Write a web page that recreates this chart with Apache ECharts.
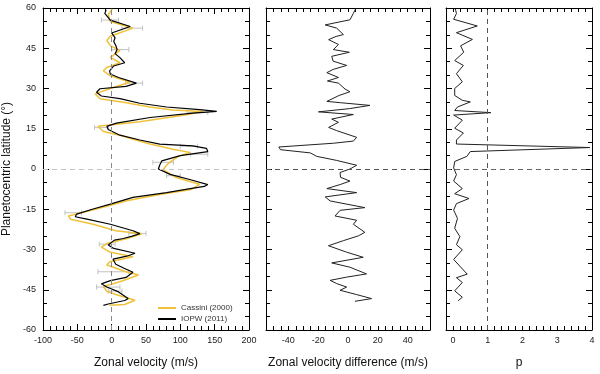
<!DOCTYPE html>
<html>
<head>
<meta charset="utf-8">
<script src="https://cdn.jsdelivr.net/npm/echarts@6/dist/echarts.min.js"></script>
<style>
  html, body { margin: 0; padding: 0; background: #fff; }
  #chart { width: 600px; height: 374px; }
</style>
</head>
<body>
<div id="chart"></div>
<script>
// IOPW (2011) zonal velocity profile
const iopwLat = [59.3, 58.0, 55.5, 53.1, 50.7, 48.9, 47.5, 46.0, 44.5, 43.0, 41.5, 39.6, 38.4, 36.6, 35.4, 34.1, 32.0, 30.8, 29.9, 28.6, 27.2, 26.2, 24.5, 23.1, 22.1, 21.5, 20.8, 19.2, 17.1, 15.9, 14.7, 12.6, 10.8, 9.3, 8.6, 7.7, 6.5, 5.0, 3.0, 1.5, 0.0, -2.0, -4.0, -5.8, -6.5, -7.5, -8.8, -10.6, -13.1, -14.9, -16.8, -17.8, -18.7, -20.6, -23.0, -24.1, -25.0, -25.9, -26.5, -28.3, -29.6, -31.4, -32.5, -33.6, -35.5, -37.0, -38.5, -40.4, -41.6, -42.8, -44.0, -45.8, -48.3, -49.0, -50.3, -50.8];
const iopwVel = [-8, -10, -2, 27, 0, 5, 3, 6, 8, 5, 12, 19, 3, -3, -2, 10, 36, 21, -17, -22, -15, 12, 41, 80, 128, 153, 118, 56, 7, -7, -5, 12, 41, 70, 118, 138, 140, 100, 73, 70, 68, 85, 115, 140, 135, 110, 80, 31, -2, -27, -51, -53, -36, -2, 31, 41, 30, 17, 4, -5, 3, 34, 22, 2, 6, 18, 31, 21, -2, -15, -7, 10, 24, 19, -5, -12];

// Cassini (2000) zonal velocity profile
const cassiniLat = [59.7, 57.5, 55.0, 52.5, 49.5, 47.9, 46.0, 44.1, 41.6, 39.6, 37.8, 36.6, 34.7, 32.3, 30.4, 28.0, 26.2, 24.9, 23.1, 22.0, 21.4, 20.2, 17.6, 15.9, 14.0, 12.6, 10.8, 9.3, 7.4, 6.2, 4.7, 2.0, -0.2, -3.2, -5.7, -7.6, -9.5, -11.8, -13.9, -16.1, -17.5, -18.7, -20.6, -23.0, -24.1, -26.0, -27.8, -29.1, -30.9, -32.7, -34.6, -35.8, -38.3, -39.5, -42.0, -43.8, -45.6, -46.8, -48.9, -50.5, -50.8];
const cassiniVel = [1, -5, -2, 31, -2, -7, -2, 12, -2, 12, -7, -12, -2, 27, 2, -24, -17, 17, 56, 89, 133, 109, 41, -20, -12, 12, 35, 56, 89, 114, 97, 82, 75, 94, 128, 116, 70, 22, -7, -41, -63, -60, -27, 6, 44, 21, -7, -15, -3, 31, -3, -7, 21, 39, 12, -12, -7, 6, 34, 19, -3];

// error bars on Cassini profile
const errLat = [55.5, 52.5, 44.5, 32.0, 21.0, 15.5, 8.5, 5.5, 2.5, -2.5, -16.3, -24.0, -28.0, -38.3, -44.0, -45.5];
const errLo = [-15, 15, 0, 20, 110, -25, 100, 115, 60, 80, -68, 25, -18, -20, -22, -5];
const errHi = [10, 45, 25, 45, 140, -5, 125, 140, 90, 100, -44, 50, 5, 25, 12, 15];

// velocity difference
const diffLat = [59.9, 58.0, 55.6, 53.7, 52.5, 50.1, 49.4, 48.2, 46.4, 44.5, 43.5, 42.0, 40.2, 38.6, 37.1, 35.9, 34.1, 32.8, 32.0, 29.8, 28.8, 27.4, 25.2, 24.7, 23.7, 22.5, 21.3, 20.3, 18.6, 17.4, 15.5, 14.3, 11.8, 10.4, 9.6, 8.2, 7.2, 6.0, 4.7, 3.2, 1.4, 0.0, -1.3, -3.1, -4.5, -5.8, -7.3, -8.8, -10.4, -11.9, -14.4, -15.4, -17.5, -19.1, -20.6, -23.6, -24.9, -26.7, -28.6, -31.0, -32.9, -35.0, -36.6, -39.1, -40.3, -41.5, -42.7, -44.0, -45.2, -46.8, -48.3, -49.3];
const diffVal = [5.3, 3.6, 1.3, -15.3, -7.6, -3.1, -8, -13, -6.4, -9.8, 0.9, -10.9, -10, -0.9, -10, -14.2, -6.4, -13.8, -6.4, -2, 1.3, -6, -14.2, -4.9, 14.7, 1, -19.8, 3.6, -10.9, -6.4, -13, -7.6, 5.8, 3.6, -9.8, -46.4, -45.3, -25.3, -20.9, -7.6, 5.8, 1.3, -5.3, -5, 1.3, -5.3, -14.2, 5.8, -15.3, -12, 11.3, -5.3, -8.7, 5.8, 3.6, 11.3, 7, -3.1, -13.1, -0.9, 10.2, -10.9, 1.3, 12.4, -0.9, -12, -7.6, -0.9, -5.3, 5.8, 15.8, 4.7];

// p
const pLat = [59.7, 57.9, 55.8, 53.3, 50.8, 48.3, 45.9, 43.5, 40.4, 38.6, 35.5, 32.5, 30.0, 27.4, 25.6, 25.0, 23.1, 21.8, 21.0, 20.1, 18.2, 15.2, 13.4, 10.8, 9.3, 8.0, 6.5, 4.7, 2.8, 0.4, -2.1, -4.5, -7.3, -9.2, -11.0, -12.9, -15.3, -18.4, -22.1, -25.2, -28.2, -30.1, -33.7, -39.2, -40.5, -42.3, -45.4, -47.8, -49.1];
const pVal = [0.07, 0.1, 0.02, 0.7, 0.1, 0.56, 0.22, 0.31, 0.05, 0.3, 0.1, 0.27, 0.05, 0.05, 0.27, 0.5, 0.13, 0.05, 1.09, 0.02, 0.27, 0.05, 0.3, 0.1, 0.1, 3.94, 0.5, 0.4, 0.05, 0.02, 0.1, 0.02, 0.27, 0.05, 0.46, 0.1, 0.02, 0.13, 0.05, 0.2, 0.1, 0.27, 0.02, 0.41, 0.1, 0.27, 0.05, 0.27, 0.15];

const font = 'Liberation Sans, Arial, sans-serif';
const boxes = [[43, 206], [266, 164], [446, 146]];

function pair(xs, ys) {
  return xs.map((x, i) => [x, ys[i]]);
}

function xAxes(i, opt, name, fmt) {
  const base = {
    gridIndex: i, type: 'value', min: opt.min, max: opt.max, interval: opt.interval,
    axisLine: { onZero: false, lineStyle: { color: '#000', width: 1 } },
    axisTick: { inside: true, length: opt.minor ? 6 : 4, lineStyle: { color: '#000' } },
    minorTick: { show: !!opt.minor, splitNumber: opt.minor || 5, length: 4, lineStyle: { color: '#000' } },
    splitLine: { show: false },
    minorSplitLine: { show: false }
  };
  return [
    Object.assign({}, base, {
      position: 'bottom',
      name: name, nameLocation: 'middle', nameGap: 27,
      nameTextStyle: { fontFamily: font, fontSize: 12, color: '#111' },
      axisLabel: { margin: 6, fontFamily: font, fontSize: 9, color: '#222', formatter: fmt }
    }),
    Object.assign({}, base, { position: 'top', axisLabel: { show: false } })
  ];
}

function yAxes(i, withLabels) {
  const base = {
    gridIndex: i, type: 'value', min: -60, max: 60, interval: 15,
    axisLine: { onZero: false, lineStyle: { color: '#000', width: 1 } },
    axisTick: { inside: true, length: 6, lineStyle: { color: '#000' } },
    minorTick: { show: true, splitNumber: 3, length: 4, lineStyle: { color: '#000' } },
    splitLine: { show: false },
    minorSplitLine: { show: false }
  };
  const left = Object.assign({}, base, { position: 'left', axisLabel: { show: false } });
  if (withLabels) {
    left.axisLabel = { margin: 7, fontFamily: font, fontSize: 9, color: '#222' };
    left.name = 'Planetocentric latitude (°)';
    left.nameLocation = 'middle';
    left.nameGap = 30;
    left.nameTextStyle = { fontFamily: font, fontSize: 12, color: '#111' };
  }
  return [left, Object.assign({}, base, { position: 'right', axisLabel: { show: false } })];
}

const dashed = (color) => ({ type: [5, 4], color: color, width: 1 });

const option = {
  animation: false,
  backgroundColor: '#fff',
  grid: boxes.map(b => ({ left: b[0], width: b[1], top: 8, height: 326 })),
  xAxis: [].concat(
    xAxes(0, { min: -100, max: 200, interval: 50, minor: 5 }, 'Zonal velocity (m/s)', v => v),
    xAxes(1, { min: -55, max: 55, interval: 5 }, 'Zonal velocity difference (m/s)',
      v => (v % 20 === 0 && Math.abs(v) <= 40) ? v : ''),
    xAxes(2, { min: -0.2, max: 4, interval: 0.2 }, 'p',
      v => (Math.abs(v - Math.round(v)) < 1e-6 && v > -0.1) ? Math.round(v) : '')
  ),
  yAxis: [].concat(yAxes(0, true), yAxes(1, false), yAxes(2, false)),
  legend: {
    orient: 'vertical', left: 153, top: 299, itemGap: 3,
    itemWidth: 18, itemHeight: 2, icon: 'rect',
    textStyle: { fontFamily: font, fontSize: 8, color: '#333' },
    data: ['Cassini (2000)', 'IOPW (2011)']
  },
  series: [
    {
      type: 'custom', xAxisIndex: 0, yAxisIndex: 0, silent: true, z: 1,
      data: errLat.map((lat, i) => [errLo[i], errHi[i], lat]),
      renderItem: function (params, api) {
        const a = api.coord([api.value(0), api.value(2)]);
        const b = api.coord([api.value(1), api.value(2)]);
        const st = { stroke: '#c2c2c2', lineWidth: 1 };
        return {
          type: 'group',
          children: [
            { type: 'line', shape: { x1: a[0], y1: a[1], x2: b[0], y2: b[1] }, style: st },
            { type: 'line', shape: { x1: a[0], y1: a[1] - 2.5, x2: a[0], y2: a[1] + 2.5 }, style: st },
            { type: 'line', shape: { x1: b[0], y1: b[1] - 2.5, x2: b[0], y2: b[1] + 2.5 }, style: st }
          ]
        };
      }
    },
    {
      name: 'Cassini (2000)', type: 'line', xAxisIndex: 0, yAxisIndex: 0, z: 2,
      symbol: 'none', color: '#f0c23a',
      lineStyle: { color: '#f0c23a', width: 1.5 },
      data: pair(cassiniVel, cassiniLat),
      markLine: {
        silent: true, symbol: 'none', label: { show: false },
        data: [
          { xAxis: 0, lineStyle: dashed('#8a8a8a') },
          { yAxis: 0, lineStyle: dashed('#c4c4c4') }
        ]
      }
    },
    {
      name: 'IOPW (2011)', type: 'line', xAxisIndex: 0, yAxisIndex: 0, z: 3,
      symbol: 'none', color: '#000',
      lineStyle: { color: '#000', width: 1.2 },
      data: pair(iopwVel, iopwLat)
    },
    {
      name: 'diff', type: 'line', xAxisIndex: 2, yAxisIndex: 2,
      symbol: 'none', lineStyle: { color: '#222', width: 1 },
      data: pair(diffVal, diffLat),
      markLine: {
        silent: true, symbol: 'none', label: { show: false },
        data: [{ yAxis: 0, lineStyle: dashed('#555') }]
      }
    },
    {
      name: 'p', type: 'line', xAxisIndex: 4, yAxisIndex: 4,
      symbol: 'none', lineStyle: { color: '#222', width: 1 },
      data: pair(pVal, pLat),
      markLine: {
        silent: true, symbol: 'none', label: { show: false },
        data: [
          { yAxis: 0, lineStyle: dashed('#666') },
          { xAxis: 1, lineStyle: dashed('#555') }
        ]
      }
    }
  ]
};

const chart = echarts.init(document.getElementById('chart'), null, { renderer: 'canvas' });
chart.setOption(option);
</script>
</body>
</html>
